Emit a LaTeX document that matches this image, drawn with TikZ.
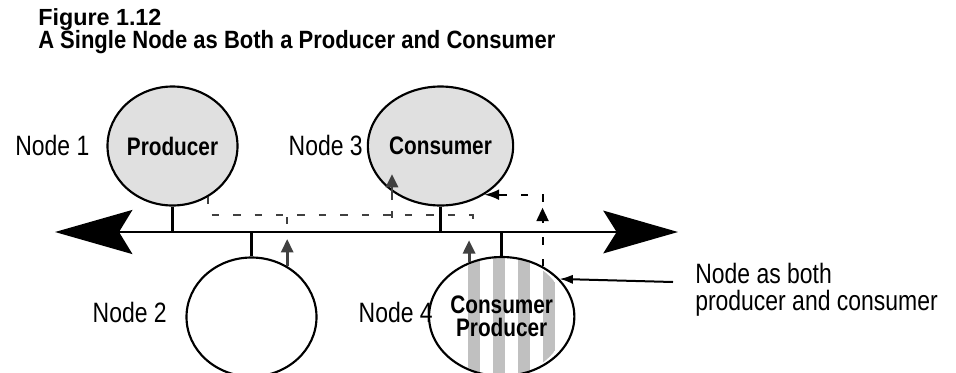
\documentclass[tikz,border=0pt]{standalone}
\usepackage{fontspec}
\setmainfont{Liberation Sans}
\newfontfamily\narrowsf[FakeStretch=0.82]{Liberation Sans}
\newfontfamily\headsf[FakeStretch=0.88]{Liberation Sans}
\usetikzlibrary{arrows.meta,positioning,shapes.geometric,decorations.markings}
\definecolor{shade}{RGB}{224,224,224}
\definecolor{stripe}{RGB}{192,192,192}
\definecolor{flowgray}{RGB}{64,64,64}

\begin{document}
\begin{tikzpicture}[x=0.75pt,y=-0.75pt,
  station/.style={ellipse,draw,line width=1.6pt,minimum width=97.5pt,minimum height=89.25pt,
    inner sep=0pt,align=center,font=\narrowsf\bfseries\fontsize{19}{17.25}\selectfont},
  nodelabel/.style={inner sep=0pt,font=\narrowsf\fontsize{21}{20.25}\selectfont},
  heading/.style={anchor=base west,inner sep=0pt,font=\headsf\bfseries\fontsize{18.75}{18}\selectfont},
  bus/.style={line width=2pt,
    {Stealth[length=58pt,width=33pt,inset=10pt]}-{Stealth[length=56pt,width=32pt,inset=10pt]}},
  stub/.style={line width=2pt},
  flow/.style={flowgray,line width=1.5pt,dash pattern=on 5.6pt off 10.5pt},
  tap/.style={flowgray,line width=2.2pt,-{Triangle[length=10pt,width=9pt]}},
  pointer/.style={line width=1.5pt,-{Latex[length=10pt,width=7pt]}}]
\useasboundingbox (0,0) rectangle (956,372);

% title
\node[heading,font=\bfseries\fontsize{17.5}{18}\selectfont] (fig) at (38,25) {Figure 1.12};
\node[heading] (caption) at (38,48) {A Single Node as Both a Producer and Consumer};

% the four stations
\node[station,fill=shade] (n1) at (172.5,146) {Producer};
\node[station,fill=shade] (n3) at (440.5,146) {Consumer};
\node[station] (n2) at (251.5,317) {};
\coordinate (c4) at (501.7,316.5);
\begin{scope}
  \clip (c4) ellipse [x radius=48.75pt,y radius=44.6pt];
  \foreach \sx in {474,499,524,549}
    \fill[stripe] (\sx-6,250) rectangle (\sx+6,380);
\end{scope}
\node[station] (n4) at (c4) {Consumer\\Producer};

\node[nodelabel,anchor=base west] (lbl1) at (15,155) {Node 1};
\node[nodelabel,anchor=base east] (lbl3) at (363,155) {Node 3};
\node[nodelabel,anchor=base east] (lbl2) at (167,322) {Node 2};
\node[nodelabel,anchor=base east] (lbl4) at (433,322) {Node 4};
\node[nodelabel,anchor=north west,align=left] (both) at (695,263)
  {Node as both\\producer and consumer};

% bus and drop lines
\coordinate (busL) at (55,232);
\coordinate (busR) at (678,232);
\draw[bus] (busL) -- (busR);
\foreach \n in {n1,n3} \draw[stub] (\n.south) -- (\n.south |- busL);
\foreach \n in {n2,n4} \draw[stub] (\n.north) -- (\n.north |- busL);

% data produced by node 1
\coordinate (lane) at (0,215);
\coordinate (end4) at (473,225);
\coordinate (tap3) at (392,200);
\draw[flow] (n1.-55) |- (lane -| end4) -- (end4);
\foreach \tx/\ty in {287/217,392/211}
  \draw[flowgray,line width=1.5pt] (\tx,\ty) -- ++(0,7);
\draw[tap] (n2.55) -- ++(0,-27);
\draw[tap] (tap3) -- ++(0,-26);
\draw[tap] (n4.121) -- ++(0,-22);

% data produced by node 4
\draw[flow,black,-{Latex[length=11pt,width=8pt]},
  postaction={decorate,decoration={markings,
    mark=at position 0.45 with {\arrow{Triangle[length=10pt,width=9pt]}}}}]
  (n4.51) |- (n3.-48);

% callout
\coordinate (ptr) at (673,282);
\draw[pointer] (ptr) -- (n4.33);
\end{tikzpicture}
\end{document}
